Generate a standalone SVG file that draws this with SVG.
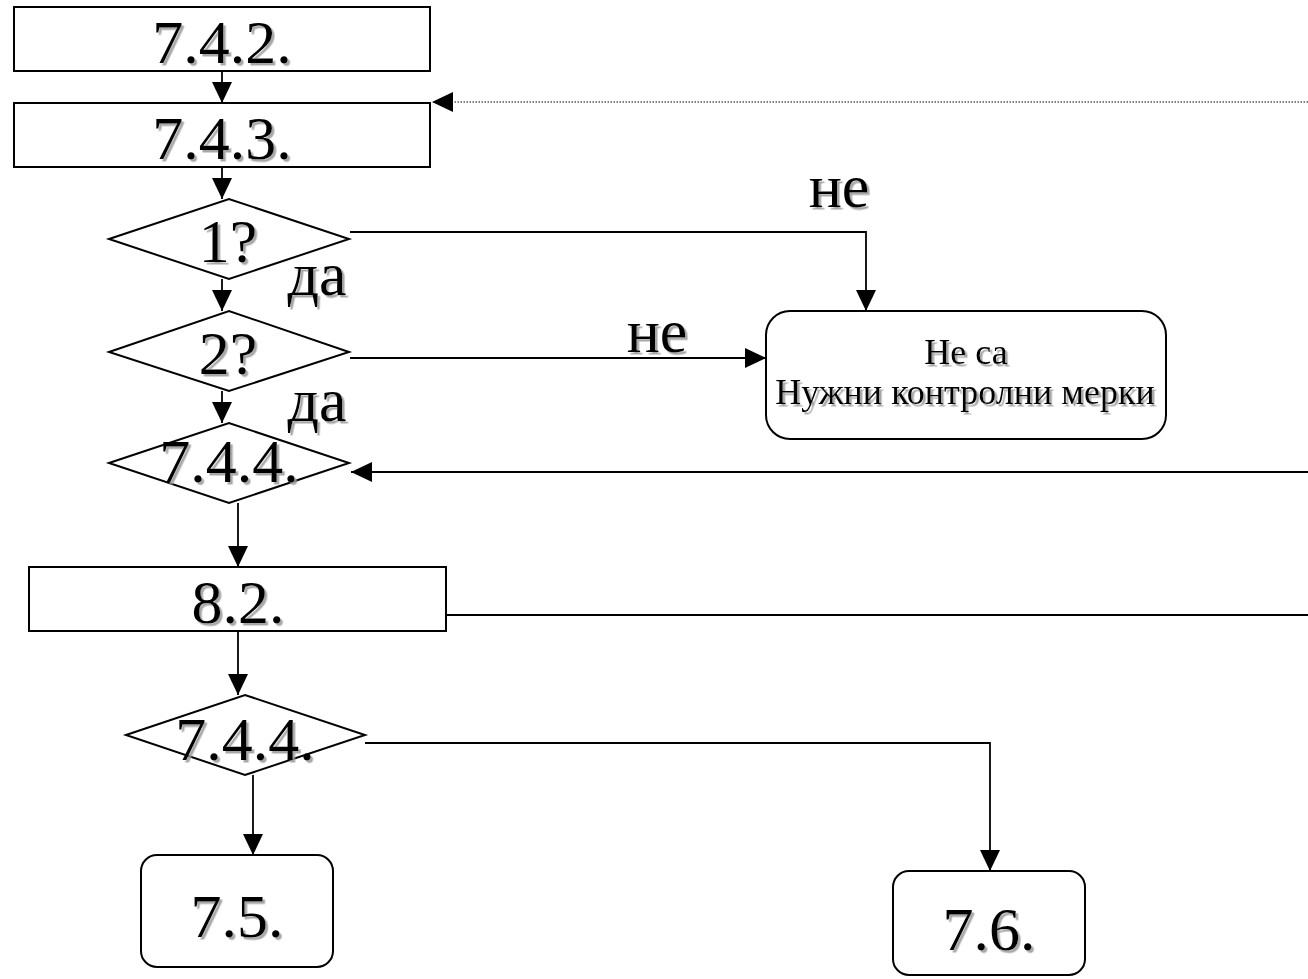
<svg xmlns="http://www.w3.org/2000/svg" width="1308" height="979" viewBox="0 0 1308 979">
<defs>
<filter id="sh" x="-10%" y="-10%" width="130%" height="140%">
<feDropShadow dx="2.5" dy="2.5" stdDeviation="0.6" flood-color="#999" flood-opacity="0.85"/>
</filter>
<marker id="ah" markerUnits="userSpaceOnUse" markerWidth="22" markerHeight="20" refX="21" refY="10" orient="auto">
<path d="M0,0 L21,10 L0,20 z" fill="#000"/>
</marker>
</defs>
<style>
.box{fill:#fff;stroke:#000;stroke-width:2}
.ln{fill:none;stroke:#000;stroke-width:1.8}
.dot{fill:none;stroke:#000;stroke-width:1.2;stroke-dasharray:1.5 1.5}
.big{font-family:"Liberation Serif","Times New Roman",serif;font-size:62px;fill:#000;text-anchor:middle;filter:url(#sh)}
.sm{font-family:"Liberation Serif","Times New Roman",serif;font-size:36px;fill:#000;text-anchor:middle;filter:url(#sh)}
</style>
<rect width="1308" height="979" fill="#fff"/>
<g id="connectors">
<line class="ln" x1="222" y1="71" x2="222" y2="103" marker-end="url(#ah)"/>
<line class="dot" x1="1308" y1="102" x2="432" y2="102" marker-end="url(#ah)"/>
<line class="ln" x1="222" y1="167" x2="222" y2="199" marker-end="url(#ah)"/>
<polyline class="ln" points="350,232 866,232 866,311" marker-end="url(#ah)"/>
<line class="ln" x1="222" y1="279" x2="222" y2="311" marker-end="url(#ah)"/>
<line class="ln" x1="350" y1="358" x2="766" y2="358" marker-end="url(#ah)"/>
<line class="ln" x1="222" y1="391" x2="222" y2="423" marker-end="url(#ah)"/>
<line class="ln" x1="1308" y1="472" x2="351" y2="472" marker-end="url(#ah)"/>
<line class="ln" x1="238" y1="503" x2="238" y2="567" marker-end="url(#ah)"/>
<line class="ln" x1="446" y1="615" x2="1308" y2="615"/>
<line class="ln" x1="238" y1="631" x2="238" y2="695" marker-end="url(#ah)"/>
<polyline class="ln" points="365,743 990,743 990,871" marker-end="url(#ah)"/>
<line class="ln" x1="253" y1="775" x2="253" y2="855" marker-end="url(#ah)"/>
<text class="big" x="839" y="207">не</text>
<text class="big" x="317" y="295">да</text>
<text class="big" x="657" y="352">не</text>
<text class="big" x="317" y="421">да</text>
</g>
<g id="n742">
<rect class="box" x="14" y="7" width="416" height="64"/>
<text class="big" x="222" y="63">7.4.2.</text>
</g>
<g id="n743">
<rect class="box" x="14" y="103" width="416" height="64"/>
<text class="big" x="222" y="159">7.4.3.</text>
</g>
<g id="q1">
<polygon class="box" points="109,239 229,199 349,239 229,279"/>
<text class="big" x="228" y="262">1?</text>
</g>
<g id="q2">
<polygon class="box" points="109,352 229,311 349,352 229,391"/>
<text class="big" x="228" y="374">2?</text>
</g>
<g id="noctrl">
<rect class="box" x="766" y="311" width="400" height="128" rx="24" ry="24"/>
<text class="sm" x="966" y="364">Не са</text>
<text class="sm" x="965" y="404">Нужни контролни мерки</text>
</g>
<g id="d744a">
<polygon class="box" points="109,463 229,423 349,463 229,503"/>
<text class="big" x="229" y="482">7.4.4.</text>
</g>
<g id="n82">
<rect class="box" x="29" y="567" width="417" height="64"/>
<text class="big" x="238" y="623">8.2.</text>
</g>
<g id="d744b">
<polygon class="box" points="126,735 245,695 365,735 245,775"/>
<text class="big" x="245" y="760">7.4.4.</text>
</g>
<g id="n75">
<rect class="box" x="141" y="855" width="192" height="112" rx="16" ry="16"/>
<text class="big" x="237" y="937">7.5.</text>
</g>
<g id="n76">
<rect class="box" x="893" y="871" width="192" height="104" rx="16" ry="16"/>
<text class="big" x="989" y="950">7.6.</text>
</g>
</svg>
